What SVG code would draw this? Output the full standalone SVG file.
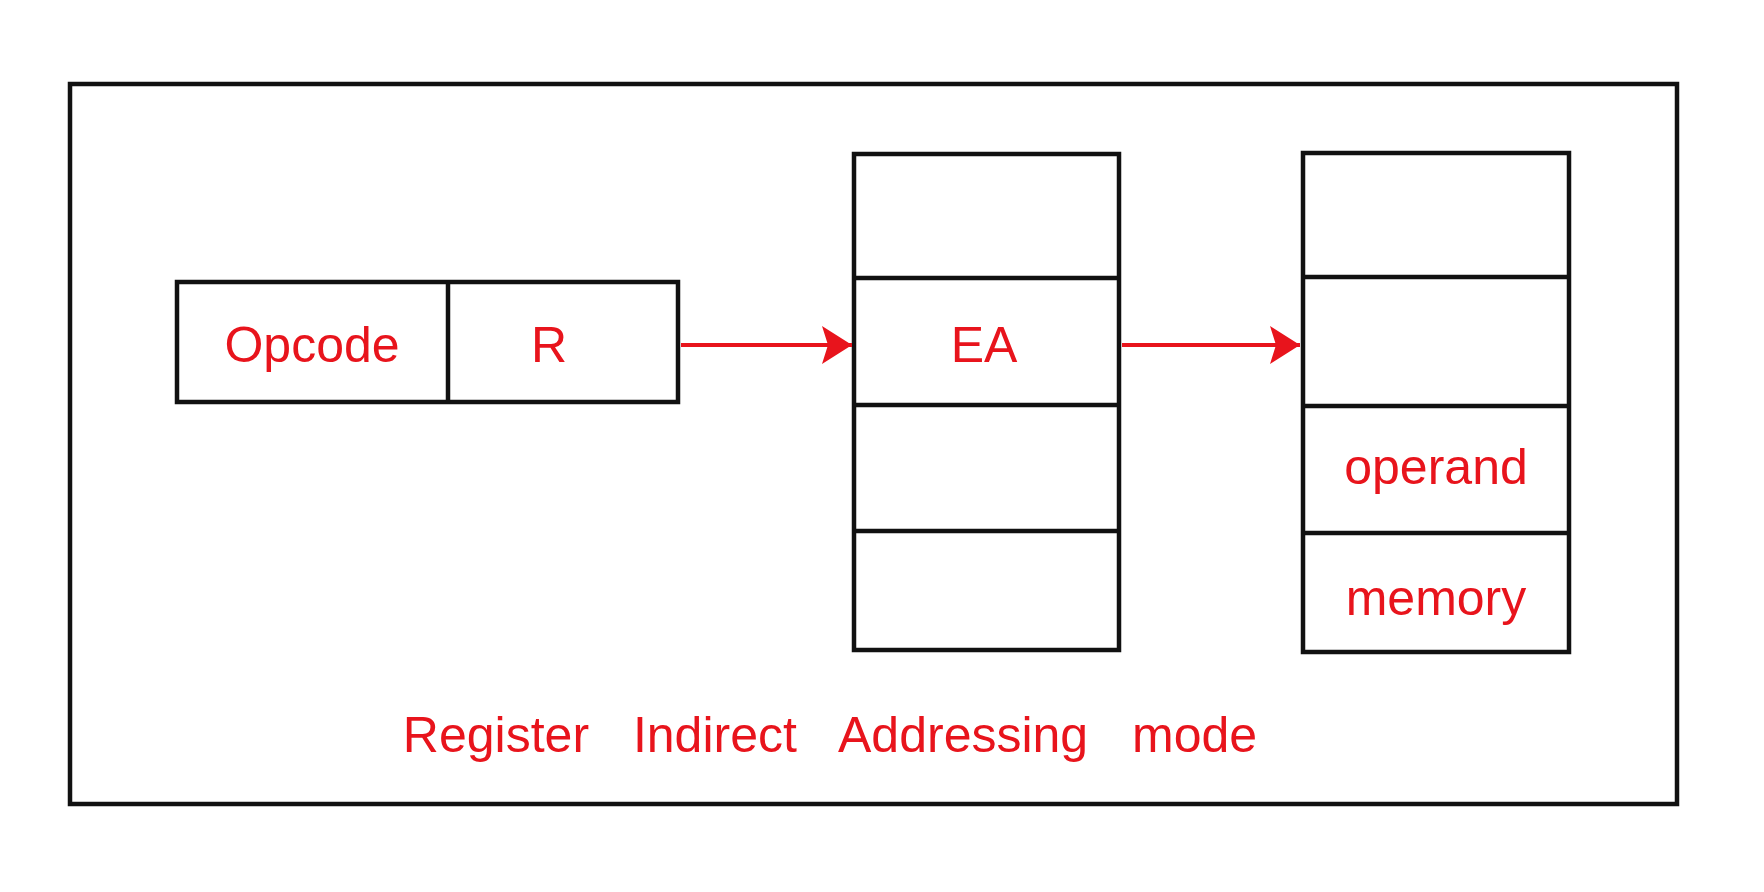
<svg xmlns="http://www.w3.org/2000/svg" width="1764" height="892" viewBox="0 0 1764 892">
<style>
.b{fill:none;stroke:#111;stroke-width:4.5}
.t{fill:#e8141c;font-family:"Liberation Sans",Arial,sans-serif;font-size:50px;text-anchor:middle}
.c{stroke:#e8141c;stroke-width:4;fill:none}
</style>
<defs><marker id="a" markerWidth="30" markerHeight="38" refX="30" refY="19" orient="auto" markerUnits="userSpaceOnUse" viewBox="0 0 30 38"><path d="M0,0 L30,19 L0,38 L6,19 z" fill="#e8141c"/></marker></defs>
<rect width="1764" height="892" fill="#fff"/>
<g id="frame"><rect class="b" x="70" y="84" width="1607" height="720"/></g>
<g id="instruction"><rect class="b" x="177" y="282" width="501" height="120"/><line class="b" x1="448" y1="282" x2="448" y2="402"/>
<text class="t" x="312" y="362">Opcode</text><text class="t" x="549" y="362">R</text></g>
<g id="register"><rect class="b" x="854" y="154" width="265" height="496"/>
<line class="b" x1="854" y1="278" x2="1119" y2="278"/><line class="b" x1="854" y1="405" x2="1119" y2="405"/><line class="b" x1="854" y1="531" x2="1119" y2="531"/>
<text class="t" x="984" y="362">EA</text></g>
<g id="memory"><rect class="b" x="1303" y="153" width="266" height="499"/>
<line class="b" x1="1303" y1="277" x2="1569" y2="277"/><line class="b" x1="1303" y1="406" x2="1569" y2="406"/><line class="b" x1="1303" y1="533" x2="1569" y2="533"/>
<text class="t" x="1436" y="484">operand</text><text class="t" x="1436" y="615">memory</text></g>
<g id="connectors"><line class="c" x1="681" y1="345" x2="852" y2="345" marker-end="url(#a)"/><line class="c" x1="1122" y1="345" x2="1300" y2="345" marker-end="url(#a)"/></g>
<g id="caption"><text class="t" x="830" y="752" style="word-spacing:30px">Register Indirect Addressing mode</text></g>
</svg>
